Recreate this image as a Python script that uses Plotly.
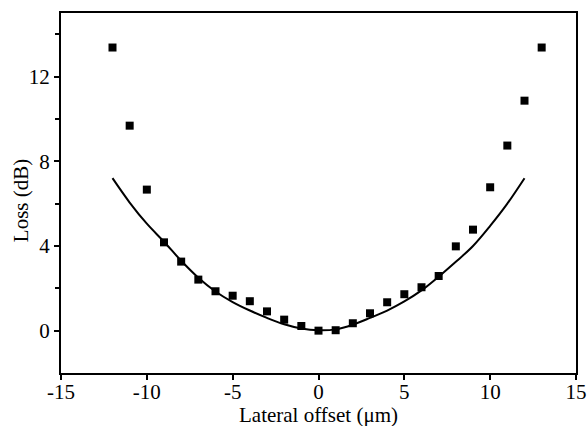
import plotly.graph_objects as go

# Measured data (squares)
offset_um = [-12, -11, -10, -9, -8, -7, -6, -5, -4, -3, -2, -1, 0,
             1, 2, 3, 4, 5, 6, 7, 8, 9, 10, 11, 12, 13]
loss_db = [13.37, 9.68, 6.66, 4.17, 3.26, 2.41, 1.86, 1.65, 1.39, 0.91, 0.52, 0.22, 0.0,
           0.02, 0.35, 0.82, 1.34, 1.72, 2.05, 2.58, 3.98, 4.77, 6.77, 8.74, 10.86, 13.37]

# Theoretical curve
curve_x = [-12, -11, -10, -9, -8, -7, -6, -5, -4, -3, -2, -1, 0,
           1, 2, 3, 4, 5, 6, 7, 8, 9, 10, 11, 12]
curve_y = [7.2, 6.05, 5.05, 4.2, 3.3, 2.5, 1.85, 1.35, 0.95, 0.6, 0.3, 0.1, 0.02,
           0.06, 0.28, 0.6, 0.95, 1.38, 1.9, 2.55, 3.25, 4.0, 4.95, 6.0, 7.2]

x_ticks = [-15, -10, -5, 0, 5, 10, 15]
y_ticks = [0, 4, 8, 12]
y_minor = [2, 6, 10, 14]

x_title = "Lateral offset (μm)"
y_title = "Loss (dB)"

FONT = "Liberation Serif"
FS = 21

fig = go.Figure()
fig.add_trace(go.Scatter(x=curve_x, y=curve_y, mode="lines",
                         line=dict(color="black", width=2, shape="spline"),
                         showlegend=False, hoverinfo="skip"))
fig.add_trace(go.Scatter(x=offset_um, y=loss_db, mode="markers",
                         marker=dict(symbol="square", size=8, color="black"),
                         showlegend=False))

fig.update_layout(
    width=587, height=426,
    margin=dict(l=61, r=11, t=13, b=53),
    paper_bgcolor="white", plot_bgcolor="white",
    font=dict(family=FONT, size=FS, color="black"),
    xaxis=dict(range=[-15, 15], tickvals=x_ticks, ticktext=[str(v) for v in x_ticks],
               ticks="outside", ticklen=5, tickwidth=1.5, tickcolor="black",
               ticklabelstandoff=-6,
               showline=True, linecolor="black", linewidth=2, mirror=True,
               showgrid=False, zeroline=False, automargin=False,
               tickfont=dict(family=FONT, size=FS)),
    yaxis=dict(range=[-2, 15], tickvals=y_ticks, ticktext=[str(v) for v in y_ticks],
               ticks="outside", ticklen=5, tickwidth=1.5, tickcolor="black",
               minor=dict(tickvals=y_minor, ticks="outside", ticklen=4,
                          tickwidth=1.5, tickcolor="black", showgrid=False),
               showline=True, linecolor="black", linewidth=2, mirror=True,
               showgrid=False, zeroline=False, automargin=False,
               tickfont=dict(family=FONT, size=FS)),
    annotations=[
        dict(text=x_title, xref="paper", yref="paper", x=0.5, y=-0.118,
             xanchor="center", yanchor="middle", showarrow=False,
             font=dict(family=FONT, size=FS, color="black")),
        dict(text=y_title, xref="paper", yref="paper", x=-0.0777, y=0.48,
             xanchor="center", yanchor="middle", showarrow=False, textangle=-90,
             font=dict(family=FONT, size=FS, color="black")),
    ],
)

fig.write_html("out.html", config={"displayModeBar": False},
               post_script="document.body.style.margin='0';document.body.style.overflow='hidden';")
